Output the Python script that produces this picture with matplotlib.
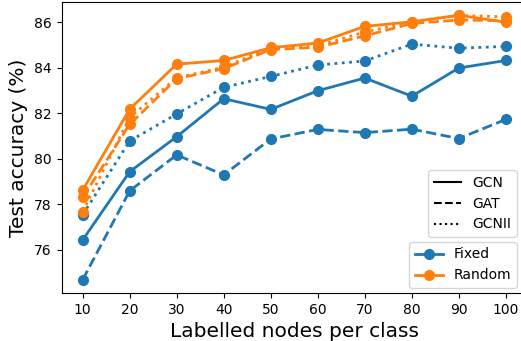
import matplotlib
matplotlib.use("Agg")
import matplotlib.pyplot as plt
from matplotlib.lines import Line2D

x = [10, 20, 30, 40, 50, 60, 70, 80, 90, 100]

fixed_gcn = [76.43, 79.43, 80.97, 82.64, 82.17, 82.99, 83.55, 82.75, 83.99, 84.32]
fixed_gat = [74.68, 78.59, 80.17, 79.29, 80.87, 81.29, 81.15, 81.30, 80.89, 81.73]
fixed_gcnii = [77.54, 80.78, 81.97, 83.14, 83.62, 84.12, 84.30, 85.04, 84.86, 84.94]

random_gcn = [78.62, 82.18, 84.16, 84.32, 84.88, 85.09, 85.82, 86.02, 86.31, 86.00]
random_gat = [78.30, 81.51, 83.52, 83.96, 84.80, 84.90, 85.40, 85.95, 86.10, 86.07]
random_gcnii = [77.68, 81.81, 83.56, 84.02, 84.90, 84.97, 85.57, 86.03, 86.30, 86.24]

blue = "#1f77b4"
orange = "#ff7f0e"

fig = plt.figure(figsize=(5.21, 3.41), dpi=100)
ax = fig.add_axes([61.5 / 521, 48 / 341, (527 - 61.5) / 521, (293 - 2) / 341])

lw = 2.0
ms = 7
for vals, ls in [(fixed_gcn, "-"), (fixed_gat, "--"), (fixed_gcnii, ":")]:
    ax.plot(x, vals, color=blue, linestyle=ls, marker="o", lw=lw, ms=ms)
for vals, ls in [(random_gcn, "-"), (random_gat, "--"), (random_gcnii, ":")]:
    ax.plot(x, vals, color=orange, linestyle=ls, marker="o", lw=lw, ms=ms)

ax.set_xticks(x)
ax.set_yticks([76, 78, 80, 82, 84, 86])
ax.set_xlabel("Labelled nodes per class", fontsize=14.5)
ax.set_ylabel("Test accuracy (%)", fontsize=14.5)

style_handles = [Line2D([], [], color="black", ls="-", lw=1.5),
                 Line2D([], [], color="black", ls="--", lw=1.5),
                 Line2D([], [], color="black", ls=":", lw=1.5)]
leg1 = ax.legend(style_handles, ["GCN", "GAT", "GCNII"], loc="lower right",
                 bbox_to_anchor=(517 / 521, (341 - 237) / 341),
                 bbox_transform=fig.transFigure, borderaxespad=0)
ax.add_artist(leg1)
color_handles = [Line2D([], [], color=blue, marker="o", lw=lw, ms=ms),
                 Line2D([], [], color=orange, marker="o", lw=lw, ms=ms)]
ax.legend(color_handles, ["Fixed", "Random"], loc="lower right",
          bbox_to_anchor=(517 / 521, (341 - 288) / 341),
          bbox_transform=fig.transFigure, borderaxespad=0)

fig.savefig("out.png", dpi=100)
